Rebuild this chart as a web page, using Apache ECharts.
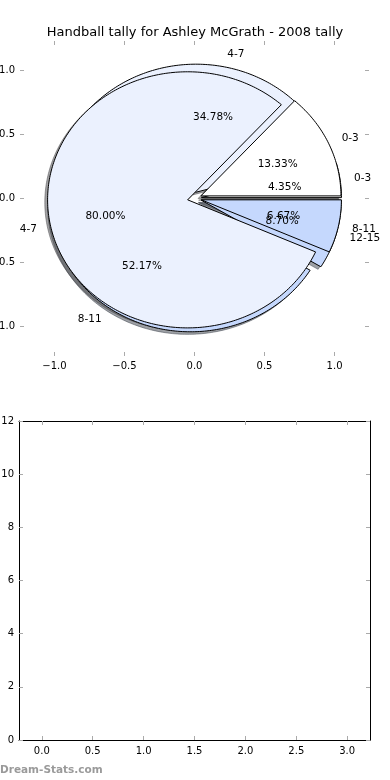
<!DOCTYPE html>
<html>
<head>
<meta charset="utf-8">
<script src="https://cdn.jsdelivr.net/npm/echarts@6/dist/echarts.min.js"></script>
<style>html,body{margin:0;padding:0;background:#fff}#c{width:390px;height:780px}</style>
</head>
<body>
<div id="c"></div>
<script>
// ---- data ----
const chartTitle = 'Handball tally for Ashley McGrath - 2008 tally';
const labelsA = ['0-3', '4-7', '8-11'];
const valuesA = [2, 12, 1];
const labelsB = ['0-3', '4-7', '8-11', '12-15'];
const valuesB = [1, 8, 12, 2];
const pieTicks = [-1, -0.5, 0, 0.5, 1];
const barXTicks = [0, 0.5, 1, 1.5, 2, 2.5, 3];
const barYTicks = [0, 2, 4, 6, 8, 10, 12];

// ---- styles ----
const colorsA = ['#ffffff', '#ebf1fe', '#c5d8fd'];
const colorsB = ['#ffffff', '#ebf1fe', '#c5d8fd', '#c5d8fd'];
const EXPLODE = 0.05;
const SHADOW_OFF = -0.02;
const FONT = '"DejaVu Sans", sans-serif';

const pies = [
  { labels: labelsB, values: valuesB, colors: colorsB },
  { labels: labelsA, values: valuesA, colors: colorsA }
];

function geom(values, i) {
  const total = values.reduce((a, b) => a + b, 0);
  let s = 0;
  for (let k = 0; k < i; k++) s += values[k];
  const t1 = s / total * 360, t2 = (s + values[i]) / total * 360;
  const tm = (t1 + t2) / 2 * Math.PI / 180;
  return { t1, t2, tm, cx: EXPLODE * Math.cos(tm), cy: EXPLODE * Math.sin(tm), frac: values[i] / total };
}
function wedgePts(api, g, ox, oy) {
  const pts = [api.coord([g.cx + ox, g.cy + oy])];
  const n = Math.max(2, Math.ceil(g.t2 - g.t1));
  for (let k = 0; k <= n; k++) {
    const a = (g.t1 + (g.t2 - g.t1) * k / n) * Math.PI / 180;
    pts.push(api.coord([g.cx + ox + Math.cos(a), g.cy + oy + Math.sin(a)]));
  }
  return pts;
}
function shadowColor(hex) {
  const r = parseInt(hex.slice(1, 3), 16), g = parseInt(hex.slice(3, 5), 16), b = parseInt(hex.slice(5, 7), 16);
  return 'rgba(' + Math.round(r * 0.3) + ',' + Math.round(g * 0.3) + ',' + Math.round(b * 0.3) + ',0.5)';
}

const allSlices = [];
pies.forEach((p, pi) => p.values.forEach((v, si) => allSlices.push([pi, si])));

function shadowRender(params, api) {
  const [pi, si] = allSlices[params.dataIndex];
  const p = pies[pi];
  const g = geom(p.values, si);
  const c = shadowColor(p.colors[si]);
  return { type: 'polygon', shape: { points: wedgePts(api, g, SHADOW_OFF, SHADOW_OFF) },
    style: { fill: c, stroke: c, lineWidth: 1 } };
}
function pieRender(pi) {
  return function (params, api) {
    const p = pies[pi];
    const si = params.dataIndex;
    const g = geom(p.values, si);
    return { type: 'polygon', shape: { points: wedgePts(api, g, 0, 0) },
      style: { fill: p.colors[si], stroke: '#000', lineWidth: 1 } };
  };
}
function labelRender(params, api) {
  const [pi, si] = allSlices[params.dataIndex];
  const p = pies[pi];
  const g = geom(p.values, si);
  const lx = g.cx + 1.1 * Math.cos(g.tm), ly = g.cy + 1.1 * Math.sin(g.tm);
  const px = g.cx + 0.6 * Math.cos(g.tm), py = g.cy + 0.6 * Math.sin(g.tm);
  const L = api.coord([lx, ly]), P = api.coord([px, py]);
  const al = lx > 0 ? 'left' : 'right';
  return { type: 'group', children: [
    { type: 'text', style: { text: p.labels[si], x: L[0], y: L[1], fill: '#000', font: '10.5px ' + FONT,
      align: al, textAlign: al, verticalAlign: 'middle', textVerticalAlign: 'middle' } },
    { type: 'text', style: { text: (g.frac * 100).toFixed(2) + '%', x: P[0], y: P[1], fill: '#000', font: '10.5px ' + FONT,
      align: 'center', textAlign: 'center', verticalAlign: 'middle', textVerticalAlign: 'middle' } }
  ] };
}

const fmt1 = v => (v < 0 ? '\u2212' : '') + Math.abs(v).toFixed(1);
const tickStyle = { show: true, inside: true, length: 4, lineStyle: { color: '#aaa', width: 1 } };
const lblStyle = { color: '#000', fontSize: 10, fontFamily: FONT };

function axis(extra) {
  return Object.assign({ type: 'value', splitLine: { show: false }, scale: false }, extra);
}

const chart = echarts.init(document.getElementById('c'), null, { renderer: 'canvas' });
chart.setOption({
  animation: false,
  backgroundColor: '#fff',
  title: { text: chartTitle, left: 'center', top: 21,
    textStyle: { fontSize: 13, fontWeight: 'normal', color: '#000', fontFamily: FONT } },
  grid: [
    { left: 20, top: 41, width: 349, height: 315, containLabel: false, outerBoundsMode: 'none' },
    { left: 19, top: 421, width: 351, height: 319, containLabel: false, outerBoundsMode: 'none' }
  ],
  xAxis: [
    axis({ gridIndex: 0, min: -1.246, max: 1.246, position: 'bottom',
      axisLine: { show: false, onZero: false },
      axisTick: Object.assign({ customValues: pieTicks }, tickStyle),
      axisLabel: Object.assign({ customValues: pieTicks, formatter: fmt1, margin: 5 }, lblStyle) }),
    axis({ gridIndex: 0, min: -1.246, max: 1.246, position: 'top',
      axisLine: { show: false, onZero: false },
      axisTick: Object.assign({ customValues: pieTicks }, tickStyle),
      axisLabel: { show: false } }),
    axis({ gridIndex: 1, min: -0.224, max: 3.224, position: 'bottom',
      axisLine: { show: true, onZero: false, lineStyle: { color: '#000', width: 1 } },
      axisTick: Object.assign({ customValues: barXTicks }, tickStyle),
      axisLabel: Object.assign({ customValues: barXTicks, formatter: fmt1, margin: 6 }, lblStyle) }),
    axis({ gridIndex: 1, min: -0.224, max: 3.224, position: 'top',
      axisLine: { show: true, onZero: false, lineStyle: { color: '#000', width: 1 } },
      axisTick: Object.assign({ customValues: barXTicks }, tickStyle),
      axisLabel: { show: false } })
  ],
  yAxis: [
    axis({ gridIndex: 0, min: -1.23, max: 1.23, position: 'left',
      axisLine: { show: false, onZero: false },
      axisTick: Object.assign({ customValues: pieTicks }, tickStyle),
      axisLabel: Object.assign({ customValues: pieTicks, formatter: fmt1, margin: 5 }, lblStyle) }),
    axis({ gridIndex: 0, min: -1.23, max: 1.23, position: 'right',
      axisLine: { show: false, onZero: false },
      axisTick: Object.assign({ customValues: pieTicks }, tickStyle),
      axisLabel: { show: false } }),
    axis({ gridIndex: 1, min: 0, max: 12, position: 'left',
      axisLine: { show: true, onZero: false, lineStyle: { color: '#000', width: 1 } },
      axisTick: Object.assign({ customValues: barYTicks }, tickStyle),
      axisLabel: Object.assign({ customValues: barYTicks, formatter: v => String(v), margin: 5 }, lblStyle) }),
    axis({ gridIndex: 1, min: 0, max: 12, position: 'right',
      axisLine: { show: true, onZero: false, lineStyle: { color: '#000', width: 1 } },
      axisTick: Object.assign({ customValues: barYTicks }, tickStyle),
      axisLabel: { show: false } })
  ],
  series: [
    { type: 'custom', xAxisIndex: 0, yAxisIndex: 0, z: 1, silent: true, clip: false,
      data: allSlices.map((s, i) => [0, 0, i]), renderItem: shadowRender },
    { type: 'custom', xAxisIndex: 0, yAxisIndex: 0, z: 2, silent: true, clip: false,
      data: valuesB.map((v, i) => [0, 0, v]), renderItem: pieRender(0) },
    { type: 'custom', xAxisIndex: 0, yAxisIndex: 0, z: 3, silent: true, clip: false,
      data: valuesA.map((v, i) => [0, 0, v]), renderItem: pieRender(1) },
    { type: 'custom', xAxisIndex: 0, yAxisIndex: 0, z: 4, silent: true, clip: false,
      data: allSlices.map((s, i) => [0, 0, i]), renderItem: labelRender }
  ],
  graphic: [
    { type: 'text', left: 0, top: 765, z: 10,
      style: { text: 'Dream-Stats.com', fill: '#9a9a9a', font: 'bold 10.5px ' + FONT } }
  ]
});
</script>
</body>
</html>
